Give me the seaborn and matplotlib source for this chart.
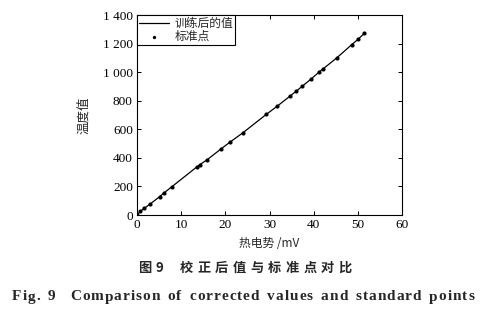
import matplotlib
matplotlib.use("Agg")
import matplotlib.pyplot as plt
import seaborn as sns
import pandas as pd

# Data
emf_mv = [0.0, 0.75, 1.65, 2.9, 5.1, 6.0, 7.9, 13.6, 14.2, 15.8, 19.0, 21.0, 24.0,
          29.3, 31.8, 34.6, 36.1, 37.4, 39.5, 41.3, 42.1, 45.2, 48.6, 50.0, 51.5]
temp_std = [0, 25, 47, 75, 128, 152, 198, 338, 352, 385, 462, 509, 576,
            705, 763, 831, 868, 901, 954, 1003, 1022, 1099, 1192, 1229, 1272]
temp_trained = [0, 25, 47, 75, 128, 152, 198, 338, 352, 385, 462, 509, 576,
                705, 763, 831, 868, 901, 954, 1003, 1022, 1099, 1192, 1229, 1272]

xticks = [0, 10, 20, 30, 40, 50, 60]
yticks = [0, 200, 400, 600, 800, 1000, 1200, 1400]
ytick_labels = ["0", "200", "400", "600", "800", "1 000", "1 200", "1 400"]

caption_cn = "图9  校正后值与标准点对比"
caption_en = "Fig. 9  Comparison of corrected values and standard points"

sns.set_style("ticks")
plt.rcParams['font.family'] = ['Liberation Serif', 'Noto Sans CJK SC', 'DejaVu Sans']
plt.rcParams['axes.unicode_minus'] = False

df = pd.DataFrame({"x": emf_mv, "std": temp_std, "trained": temp_trained})

W, H = 487, 314
fig = plt.figure(figsize=(W/100, H/100), dpi=100)
ax = fig.add_axes([137/W, 1 - 215/H, (402-137)/W, (215-15)/H])

sns.lineplot(data=df, x="x", y="trained", ax=ax, color="black", linewidth=0.9,
             label="训练后的值", sort=True)
sns.scatterplot(data=df, x="x", y="std", ax=ax, color="black", s=9, marker="o",
                edgecolor="black", linewidth=0, label="标准点", zorder=3)

ax.set_xlim(0, 60)
ax.set_ylim(0, 1400)
ax.set_xticks(xticks)
ax.set_yticks(yticks)
ax.set_yticklabels(ytick_labels)
ax.tick_params(direction="in", top=True, right=True, labelsize=9.5, length=3,
               width=0.7, pad=3, colors="black")
for sp in ax.spines.values():
    sp.set_visible(True)
    sp.set_linewidth(0.8)
    sp.set_color("black")

ax.set_xlabel("热电势 /mV", fontsize=8.5, family=['Noto Sans CJK SC', 'DejaVu Sans'], labelpad=4)
ax.set_ylabel("温度值", fontsize=9, family=['Noto Sans CJK SC'], labelpad=9)

leg = ax.legend(loc="upper left", bbox_to_anchor=(0, 1), borderaxespad=0,
                fancybox=False, edgecolor="black", framealpha=1,
                prop={'family': ['Noto Sans CJK SC'], 'size': 8.5},
                handlelength=2.6, handletextpad=0.4, borderpad=0.15,
                labelspacing=0.0, markerscale=0.8)
leg.get_frame().set_linewidth(0.8)

renderer = fig.canvas.get_renderer()


def spaced_text(text, left_px, right_px, y_px, space_frac=0.6, **kw):
    widths = []
    for ch in text:
        t = fig.text(0, 0, ch if ch != " " else "n", **kw)
        bb = t.get_window_extent(renderer=renderer)
        w = bb.width
        if ch == " ":
            w *= space_frac
        widths.append(w)
        t.remove()
    gap = ((right_px - left_px) - sum(widths)) / (len(text) - 1)
    x = left_px
    for ch, w in zip(text, widths):
        if ch != " ":
            fig.text(x / W, 1 - y_px / H, ch, ha="left", va="center", **kw)
        x += w + gap


spaced_text(caption_cn, 138, 352, 268, space_frac=0.15, fontsize=9.5, fontweight="bold",
            family=['Noto Sans CJK SC'])
spaced_text(caption_en, 12, 474, 297, space_frac=0.7, fontsize=11, fontweight="bold",
            family=['Liberation Serif'])

fig.savefig("out.png", dpi=100)
